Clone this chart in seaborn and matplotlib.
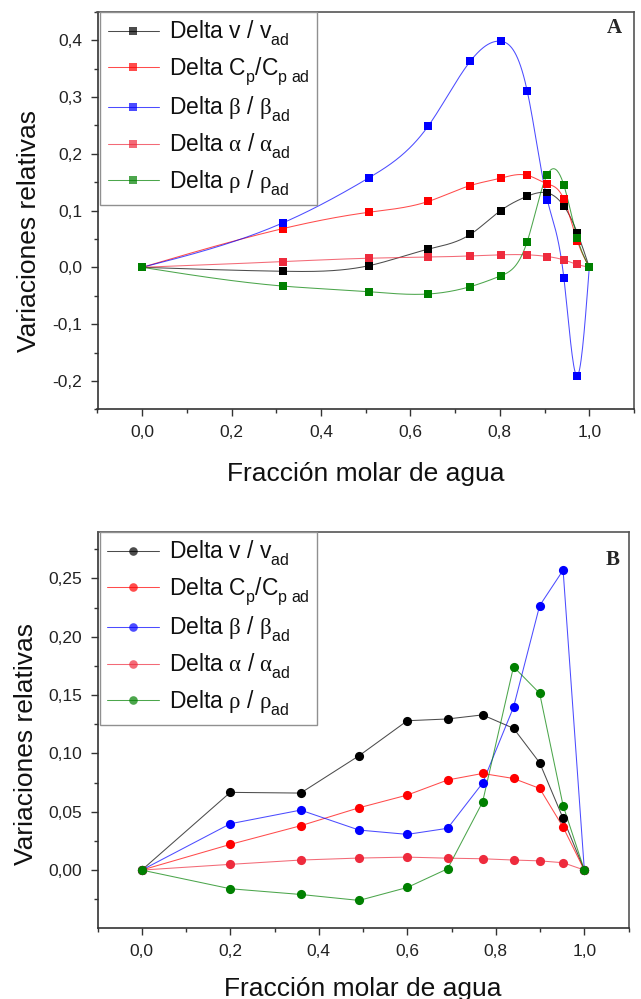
import numpy as np
import pandas as pd
import matplotlib
matplotlib.use("Agg")
import matplotlib.pyplot as plt
from matplotlib.lines import Line2D
from matplotlib.ticker import MultipleLocator, FuncFormatter
import seaborn as sns

sns.set_style("ticks")
plt.rcParams['font.family'] = ['Liberation Sans', 'DejaVu Sans']
plt.rcParams['mathtext.fontset'] = 'custom'
plt.rcParams['mathtext.rm'] = 'Liberation Sans'
plt.rcParams['mathtext.it'] = 'Liberation Serif'
plt.rcParams['mathtext.sf'] = 'Liberation Serif'
plt.rcParams['mathtext.bf'] = 'Liberation Sans:bold'

# deeper subscripts, like the Origin legend
try:
    import matplotlib._mathtext as _mt
    _mt.FontConstantsBase.sub1 = 0.65
except Exception:
    pass

# ---------------- data: panel A ----------------
xA = [0.0, 0.314, 0.508, 0.640, 0.734, 0.802, 0.861, 0.906, 0.943, 0.973, 1.0]
vA = [0.0, -0.007, 0.003, 0.032, 0.058, 0.100, 0.125, 0.131, 0.108, 0.061, 0.0]
cpA = [0.0, 0.068, 0.097, 0.116, 0.144, 0.157, 0.162, 0.147, 0.120, 0.047, 0.0]
betaA = [0.0, 0.078, 0.158, 0.249, 0.363, 0.398, 0.311, 0.119, -0.018, -0.191, 0.0]
alphaA = [0.0, 0.010, 0.016, 0.018, 0.020, 0.022, 0.022, 0.019, 0.013, 0.005, 0.0]
rhoA = [0.0, -0.033, -0.043, -0.047, -0.034, -0.015, 0.045, 0.163, 0.145, 0.052, 0.0]

# ---------------- data: panel B ----------------
xB = [0.0, 0.200, 0.359, 0.491, 0.600, 0.691, 0.770, 0.840, 0.899, 0.952, 1.0]
vB = [0.0, 0.0666, 0.066, 0.098, 0.128, 0.1295, 0.133, 0.1215, 0.092, 0.0443, 0.0]
cpB = [0.0, 0.022, 0.038, 0.0534, 0.0643, 0.0772, 0.0828, 0.0785, 0.070, 0.0368, 0.0]
betaB = [0.0, 0.0397, 0.0514, 0.0343, 0.0306, 0.0358, 0.0745, 0.1396, 0.2266, 0.257, 0.0]
alphaB = [0.0, 0.0049, 0.0086, 0.0103, 0.0111, 0.0102, 0.0097, 0.0086, 0.0079, 0.0063, 0.0]
rhoB = [0.0, -0.016, -0.0209, -0.026, -0.0149, 0.0011, 0.0582, 0.1743, 0.1515, 0.0553, 0.0]

labels = [r"Delta v / v$_{\mathrm{ad}}$",
          r"Delta C$_{\mathrm{p}}$/C$_{\mathrm{p\ ad}}$",
          r"Delta $\mathsf{\beta}$ / $\mathsf{\beta}_{\mathrm{ad}}$",
          r"Delta $\mathsf{\alpha}$ / $\mathsf{\alpha}_{\mathrm{ad}}$",
          r"Delta $\mathsf{\rho}$ / $\mathsf{\rho}_{\mathrm{ad}}$"]
colors = ["#000000", "#FF0000", "#0000FF", "#EE2B3D", "#008000"]

x_label = "Fracción molar de agua"
y_label = "Variaciones relativas"


def natural_spline(x, y, n=600):
    x = np.asarray(x, float)
    y = np.asarray(y, float)
    nn = len(x)
    h = np.diff(x)
    A = np.zeros((nn, nn))
    rhs = np.zeros(nn)
    A[0, 0] = 1.0
    A[-1, -1] = 1.0
    for i in range(1, nn - 1):
        A[i, i - 1] = h[i - 1]
        A[i, i] = 2 * (h[i - 1] + h[i])
        A[i, i + 1] = h[i]
        rhs[i] = 3 * ((y[i + 1] - y[i]) / h[i] - (y[i] - y[i - 1]) / h[i - 1])
    c = np.linalg.solve(A, rhs)
    b = (y[1:] - y[:-1]) / h - h * (2 * c[:-1] + c[1:]) / 3
    d = (c[1:] - c[:-1]) / (3 * h)
    xs = np.linspace(x[0], x[-1], n)
    idx = np.clip(np.searchsorted(x, xs, side='right') - 1, 0, nn - 2)
    dx = xs - x[idx]
    ys = y[idx] + b[idx] * dx + c[idx] * dx ** 2 + d[idx] * dx ** 3
    return xs, ys


fig = plt.figure(figsize=(6.41, 9.99), dpi=100)
W, H = 641.0, 999.0
axA = fig.add_axes([97.5 / W, 1 - 409.3 / H, (634 - 97.5) / W, (409.3 - 11.7) / H])
axB = fig.add_axes([97.5 / W, 1 - 928.3 / H, (628.6 - 97.5) / W, (928.3 - 531.7) / H])

seriesA = [vA, cpA, betaA, alphaA, rhoA]
seriesB = [vB, cpB, betaB, alphaB, rhoB]

LW = 0.75
for ys, col in zip(seriesA, colors):
    sx, sy = natural_spline(xA, ys)
    sns.lineplot(x=sx, y=sy, ax=axA, color=col, lw=LW, alpha=0.7, sort=False, estimator=None)
for ys, col in zip(seriesA, colors):
    axA.plot(xA, ys, ls='none', marker='s', ms=6.2, color=col, mec=col, mew=0, zorder=5)

for ys, col in zip(seriesB, colors):
    sns.lineplot(x=xB, y=ys, ax=axB, color=col, lw=LW, alpha=0.7, sort=False, estimator=None)
for ys, col in zip(seriesB, colors):
    axB.plot(xB, ys, ls='none', marker='o', ms=6.6, color=col, mec=col, mew=0, zorder=5)


def fmt(dec):
    return FuncFormatter(lambda v, p: (f"{v:.{dec}f}").replace('.', ',').replace('−', '-'))


for ax, marker, ylim, ymaj, ymin, ydec, lpad in [(axA, 's', (-0.25, 0.45), 0.1, 0.05, 1, 16),
                                                 (axB, 'o', (-0.0499, 0.29), 0.05, 0.025, 2, 13)]:
    ax.set_xlim(-0.1, 1.1)
    ax.set_ylim(*ylim)
    ax.xaxis.set_major_locator(MultipleLocator(0.2))
    ax.xaxis.set_minor_locator(MultipleLocator(0.1))
    ax.yaxis.set_major_locator(MultipleLocator(ymaj))
    ax.yaxis.set_minor_locator(MultipleLocator(ymin))
    ax.xaxis.set_major_formatter(fmt(1))
    ax.yaxis.set_major_formatter(fmt(ydec))
    ax.tick_params(which='major', direction='out', length=5, width=1, labelsize=12.5,
                   color='#333333', labelcolor='#222222', pad=6)
    ax.tick_params(which='minor', direction='out', length=3, width=1, color='#333333')
    for s in ['left', 'bottom']:
        ax.spines[s].set_color('#333333')
        ax.spines[s].set_linewidth(1.2)
    for s in ['top', 'right']:
        ax.spines[s].set_color('#555555')
        ax.spines[s].set_linewidth(1.2)
    ax.set_xlabel(x_label, fontsize=19, color='#111111', labelpad=lpad)
    ax.set_ylabel(y_label, fontsize=19, color='#111111')
    handles = [Line2D([], [], color=c, lw=LW, alpha=0.7, marker=marker, ms=6.2,
                      mfc=c, mec=c, mew=0) for c in colors]
    leg = ax.legend(handles, labels, loc='upper left', bbox_to_anchor=(0.005, 1.0),
                    borderaxespad=0, fontsize=16.5, handlelength=2.25, handletextpad=0.42,
                    labelspacing=0.33, borderpad=0.32, frameon=True, fancybox=False,
                    framealpha=1, edgecolor='#909090')
    leg.get_frame().set_linewidth(1.0)
    for t in leg.get_texts():
        t.set_color('#111111')

axA.yaxis.set_label_coords(-0.105, 0.448)
axB.yaxis.set_label_coords(-0.112, 0.465)

axA.text(0.9627, 0.960, "A", transform=axA.transAxes, ha='center', va='center',
         fontsize=15, fontweight='bold', family='Liberation Serif')
axB.text(0.9706, 0.9287, "B", transform=axB.transAxes, ha='center', va='center',
         fontsize=15, fontweight='bold', family='Liberation Serif')

fig.savefig("out.png", dpi=100)
